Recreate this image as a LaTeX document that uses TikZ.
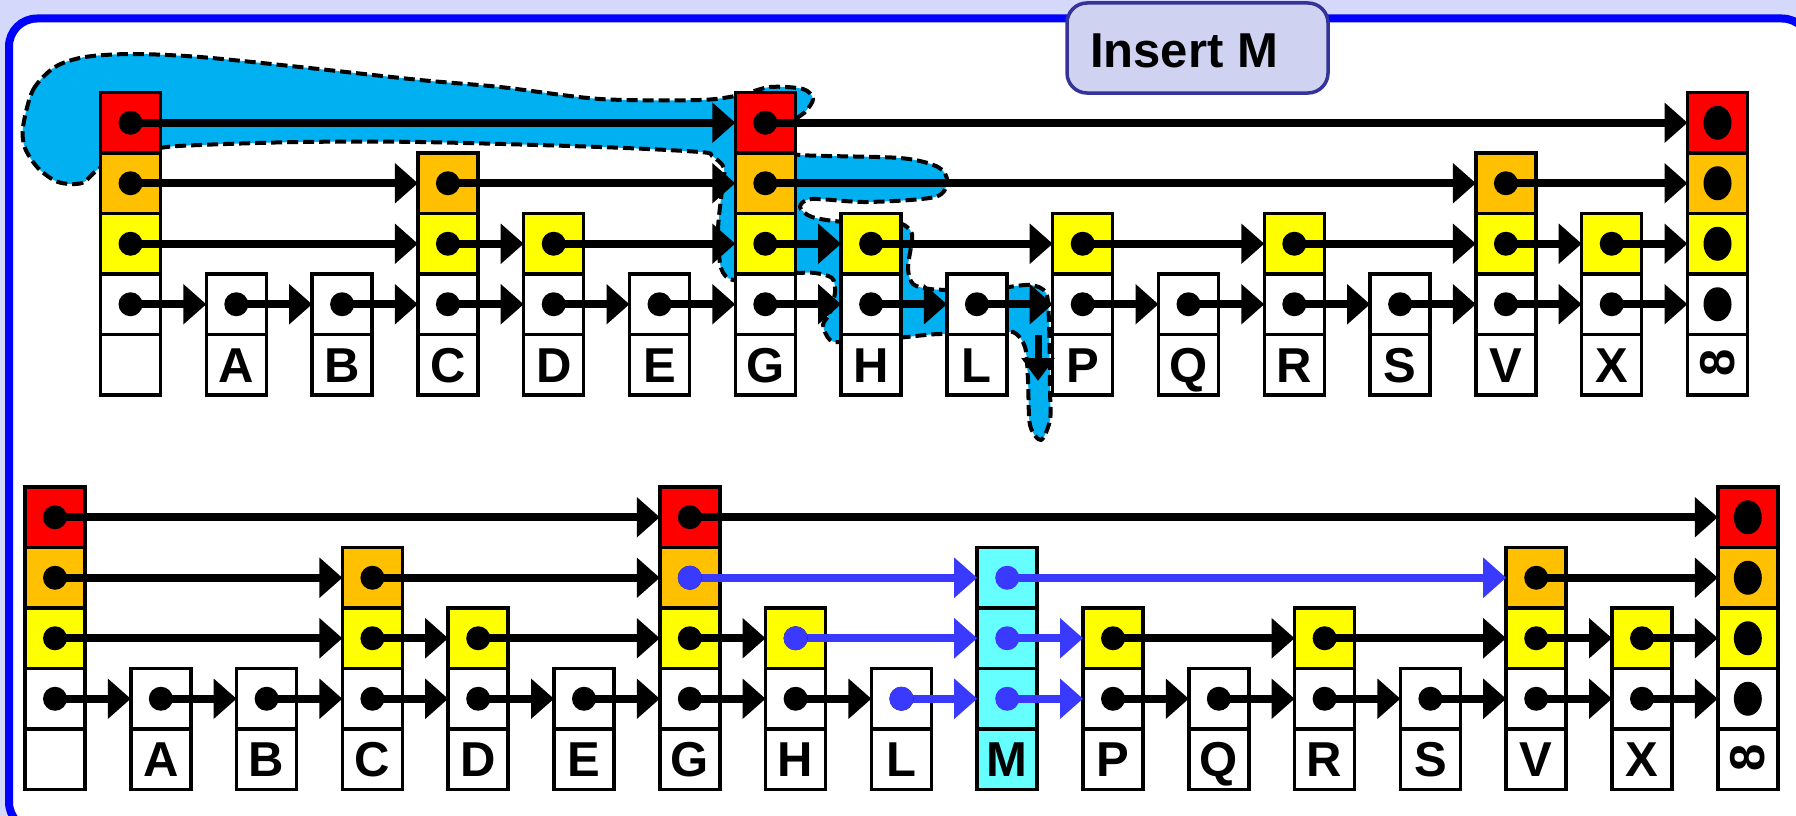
\documentclass[tikz,border=0pt]{standalone}
\usepackage{fontspec}
\setmainfont{Liberation Sans}
\usetikzlibrary{arrows.meta}
\definecolor{bgl}{RGB}{212,217,251}
\definecolor{frameblue}{RGB}{0,0,255}
\definecolor{titlefill}{RGB}{208,210,242}
\definecolor{titledraw}{RGB}{51,51,153}
\definecolor{cred}{RGB}{255,0,0}
\definecolor{corange}{RGB}{255,192,0}
\definecolor{cyellow}{RGB}{255,255,0}
\definecolor{ccyan}{RGB}{102,255,255}
\definecolor{cblue}{RGB}{58,58,255}
\definecolor{blobc}{RGB}{0,176,240}
\newcommand\infsym{\raisebox{5.5pt}{\rotatebox{90}{8}}}
% #1 prefix, #2 index, #3 x, #4 ytop, #5 levels, #6 label
\newcommand\mkcol[6]{%
  \node[cell,fill=white] (#1#2-0) at (#3,#4+272.25) {#6};
  \node[cell,fill=white] (#1#2-1) at (#3,#4+211.75) {};
  \ifnum#5>1 \node[cell,fill=cyellow] (#1#2-2) at (#3,#4+151.25) {};\fi
  \ifnum#5>2 \node[cell,fill=corange] (#1#2-3) at (#3,#4+90.75) {};\fi
  \ifnum#5>3 \node[cell,fill=cred] (#1#2-4) at (#3,#4+30.25) {};\fi
}
\begin{document}
\begin{tikzpicture}[x=1pt,y=-1pt,
  cell/.style={draw=black, line width=3.5pt, minimum width=60pt, minimum height=60.5pt,
    inner sep=0pt, outer sep=0pt, font=\fontsize{49}{49}\selectfont\bfseries,
    text height=35pt, text depth=0pt},
  arr/.style={line width=8pt, -{Triangle[length=23pt,width=39pt]}},
  barr/.style={arr, draw=cblue},
  dot/.style={fill=black},
  bdot/.style={fill=cblue},
  blob/.style={fill=blobc, draw=black, line width=4pt, dash pattern=on 11pt off 5pt},
  titlebox/.style={draw=titledraw, fill=titlefill, line width=3.5pt, rounded corners=20pt,
    minimum width=261pt, minimum height=90pt, inner sep=0pt},
  titletext/.style={inner sep=0pt, font=\fontsize{49}{49}\selectfont\bfseries,
    text height=35pt, text depth=0pt}
]
\useasboundingbox (0,0) rectangle (1796,816);
\clip (0,0) rectangle (1796,816);
\fill[bgl] (0,0) rectangle (1796,816);
\draw[frameblue, fill=white, line width=8pt, rounded corners=28pt] (9,18.5) rectangle (1810,830);
\node[titlebox] (title) at (1197.5,48) {};
\node[titletext] (titlelbl) at (1184,49.5) {Insert M};

% search path blob
\draw[blob] plot[smooth cycle, tension=0.5] coordinates {
 (23,127) (33,90) (55,67) (85,57) (133,54) (200,57) (300,67) (420,80) (500,87)
 (600,99) (700,100) (740,95) (770,87) (803,89) (813,99) (805,112) (790,125)
 (790,148) (800,155) (900,158) (938,167) (947,181) (935,197) (867,202) (812,199)
 (800,207) (812,217) (845,222) (895,222) (910,230) (912,240) (908,268) (913,284)
 (930,289) (960,290) (1000,288) (1030,285) (1046,293) (1049,323) (1050,390)
 (1050,420) (1041,440) (1030,425) (1028,380) (1025,347) (1013,332) (990,335)
 (940,334) (907,337) (895,338) (845,342) (830,340) (823,325) (830,313) (835,292)
 (832,278) (815,273) (797,273) (760,275) (733,280) (721,268) (718,230) (722,190)
 (724,168) (712,156) (700,152) (600,147) (420,142) (300,142) (200,145) (160,148)
 (130,158) (100,168) (82,183) (58,182) (38,168) (25,148)};

% ---------- top list ----------
\foreach \i/\lv/\lab in {0/4/{},1/1/A,2/1/B,3/3/C,4/2/D,5/1/E,6/4/G,7/2/H,8/1/L,9/2/P,10/1/Q,11/2/R,12/1/S,13/3/V,14/2/X,15/4/\infsym} {
  \pgfmathsetmacro\cx{130.5+105.8*\i}
  \mkcol{T}{\i}{\cx}{92.5}{\lv}{\lab}
}
\foreach \a/\b/\l in {0/6/4,6/15/4,0/3/3,3/6/3,6/13/3,13/15/3,0/3/2,3/4/2,4/6/2,6/7/2,7/9/2,9/11/2,11/13/2,13/14/2,14/15/2} {
  \draw[arr] (T\a-\l.center) -- (T\b-\l.west);
}
\foreach \a in {0,...,14} {
  \pgfmathtruncatemacro\b{\a+1}
  \draw[arr] (T\a-1.center) -- (T\b-1.west);
}
\foreach \i/\lv in {0/4,1/1,2/1,3/3,4/2,5/1,6/4,7/2,8/1,9/2,10/1,11/2,12/1,13/3,14/2} {
  \foreach \l in {1,...,\lv} { \fill[dot] (T\i-\l.center) circle[radius=12pt]; }
}
\foreach \l in {1,...,4} { \fill[dot] (T15-\l.center) ellipse[x radius=14pt, y radius=17pt]; }
\coordinate (dstart) at (1038,335);
\coordinate (dend) at (1038,381);
\draw[line width=7pt, -{Triangle[length=23pt,width=32pt]}] (dstart) -- (dend);

% ---------- bottom list ----------
\foreach \i/\lv/\lab in {0/4/{},1/1/A,2/1/B,3/3/C,4/2/D,5/1/E,6/4/G,7/2/H,8/1/L,10/2/P,11/1/Q,12/2/R,13/1/S,14/3/V,15/2/X,16/4/\infsym} {
  \pgfmathsetmacro\cx{55+105.8*\i}
  \mkcol{B}{\i}{\cx}{487}{\lv}{\lab}
}
\node[cell,fill=ccyan] (B9-0) at (1007.2,759.25) {M};
\node[cell,fill=ccyan] (B9-1) at (1007.2,698.75) {};
\node[cell,fill=ccyan] (B9-2) at (1007.2,638.25) {};
\node[cell,fill=ccyan] (B9-3) at (1007.2,577.75) {};

\foreach \a/\b/\l in {0/6/4,6/16/4,0/3/3,3/6/3,14/16/3,0/3/2,3/4/2,4/6/2,6/7/2,10/12/2,12/14/2,14/15/2,15/16/2,
  0/1/1,1/2/1,2/3/1,3/4/1,4/5/1,5/6/1,6/7/1,7/8/1,10/11/1,11/12/1,12/13/1,13/14/1,14/15/1,15/16/1} {
  \draw[arr] (B\a-\l.center) -- (B\b-\l.west);
}
\foreach \a/\b/\l in {6/9/3,9/14/3,7/9/2,9/10/2,8/9/1,9/10/1} {
  \draw[barr] (B\a-\l.center) -- (B\b-\l.west);
}
\foreach \i/\lv in {0/4,1/1,2/1,3/3,4/2,5/1,6/4,7/2,8/1,10/2,11/1,12/2,13/1,14/3,15/2} {
  \foreach \l in {1,...,\lv} { \fill[dot] (B\i-\l.center) circle[radius=12pt]; }
}
\foreach \n in {B6-3,B7-2,B8-1,B9-1,B9-2,B9-3} { \fill[bdot] (\n.center) circle[radius=12pt]; }
\foreach \l in {1,...,4} { \fill[dot] (B16-\l.center) ellipse[x radius=14pt, y radius=17pt]; }
\end{tikzpicture}
\end{document}
